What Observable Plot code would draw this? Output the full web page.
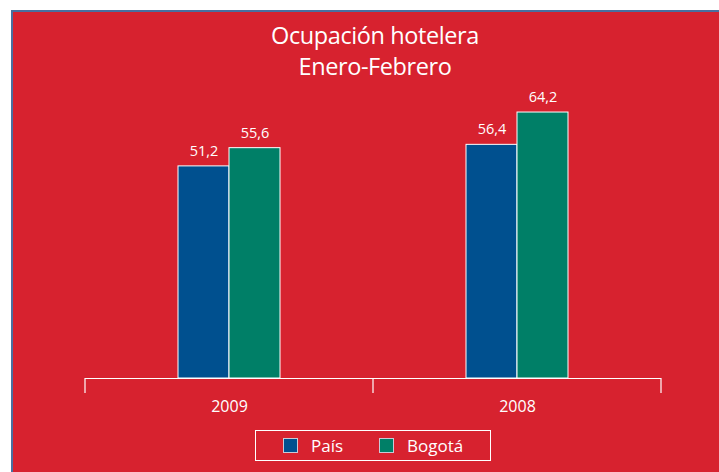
<!DOCTYPE html>
<html>
<head>
<meta charset="utf-8">
<script src="https://cdn.jsdelivr.net/npm/d3@7"></script>
<script src="https://cdn.jsdelivr.net/npm/@observablehq/plot@0.6"></script>
<style>
  html, body { margin: 0; padding: 0; background: #ffffff; }
  #page { position: relative; width: 719px; height: 472px; overflow: hidden; background: #fff; font-family: "Open Sans", sans-serif; }
  #panel { position: absolute; left: 11px; top: 10px; right: 0; bottom: 0; background: #D7222F;
           border-top: 2px solid #4a6f9f; border-left: 2px solid #4a6f9f; }
  #title { position: absolute; left: 8px; width: 734px; top: 20px; text-align: center; color: #fff;
           font-size: 23.5px; line-height: 31px; letter-spacing: -0.4px; }
  #chart { position: absolute; left: 0; top: 0; }
  #legend { position: absolute; left: 255px; top: 430px; width: 234px; height: 29px; border: 1.5px solid #fff;
            display: flex; align-items: center; color: #fff; font-size: 17px; }
  .sw { width: 13px; height: 13px; border: 1px solid #c9c9d6; display: inline-block; margin-right: 13px; }
  .item { display: flex; align-items: center; }
</style>
</head>
<body>
<div id="page">
  <div id="panel"></div>
  <div id="title">Ocupación hotelera<br>Enero-Febrero</div>
  <div id="chart"></div>
  <div id="legend"></div>
</div>
<script>
const years = ["2009", "2008"];
const series = ["País", "Bogotá"];
const pais = [51.2, 56.4];
const bogota = [55.6, 64.2];
const colors = ["#00508F", "#007F67"];
const labels = ["51,2", "56,4", "55,6", "64,2"];

const data = [];
years.forEach((y, i) => {
  data.push({year: y, serie: series[0], value: pais[i], label: labels[i]});
});
years.forEach((y, i) => {
  data.push({year: y, serie: series[1], value: bogota[i], label: labels[i + 2]});
});

const plot = Plot.plot({
  width: 719,
  height: 472,
  marginLeft: 85,
  marginRight: 58,
  marginTop: 88,
  marginBottom: 94,
  style: {background: "transparent", fontFamily: "Open Sans, sans-serif"},
  fx: {domain: years, padding: 0, label: null},
  x: {domain: series, paddingInner: 0, paddingOuter: 1.77, axis: null},
  y: {domain: [0, 70], axis: null},
  color: {domain: series, range: colors},
  marks: [
    Plot.barY(data, {fx: "year", x: "serie", y: "value", fill: "serie", stroke: "#ffffff", strokeWidth: 1, inset: 0}),
    Plot.text(data, {fx: "year", x: "serie", y: "value", text: "label", dy: -15, fill: "#ffffff", fontSize: 14.5}),
    Plot.ruleY([0], {stroke: "#ffffff", strokeWidth: 1.2}),
    Plot.axisFx({anchor: "bottom", tickSize: 0, tickPadding: 22, fontSize: 16, color: "#ffffff", label: null})
  ]
});

// boundary ticks of the category axis, from the plot's own scales
const fx = plot.scale("fx");
const ys = plot.scale("y");
const y0 = ys.apply(0);
const bounds = [fx.apply(years[0])].concat(years.map(y => fx.apply(y) + fx.bandwidth));
d3.select(plot).append("g")
  .selectAll("line").data(bounds).join("line")
  .attr("x1", d => d).attr("x2", d => d)
  .attr("y1", y0).attr("y2", y0 + 15)
  .attr("stroke", "#ffffff").attr("stroke-width", 1.2);

document.getElementById("chart").appendChild(plot);

const legend = d3.select("#legend");
series.forEach((s, i) => {
  const it = legend.append("div").attr("class", "item")
    .style("margin-left", i === 0 ? "27px" : "36px");
  it.append("span").attr("class", "sw").style("background", colors[i]);
  it.append("span").text(s);
});
</script>
</body>
</html>
